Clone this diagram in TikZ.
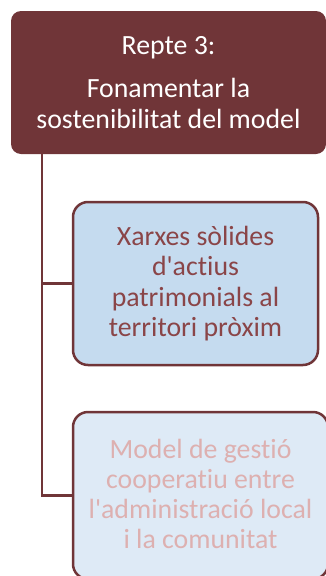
\documentclass[tikz,border=0pt]{standalone}
\usepackage{fontspec}
\setmainfont{Carlito}[Ligatures={NoCommon},RawFeature={-liga;-clig;-calt}]
\definecolor{maroon}{HTML}{703538}
\definecolor{midfill}{HTML}{C5DBEF}
\definecolor{lightfill}{HTML}{DEEAF6}
\definecolor{midtext}{HTML}{8A4548}
\definecolor{lighttext}{HTML}{DDB0B0}
\begin{document}
\begin{tikzpicture}[x=1pt,y=-1pt,
  boxbase/.style={rectangle,inner sep=0pt,outer sep=0pt,line width=2.5pt},
  topbox/.style={boxbase,fill=maroon,rounded corners=10pt,minimum width=315pt,minimum height=143pt},
  childbox/.style={boxbase,draw=maroon,rounded corners=15pt},
  txt/.style={anchor=base,inner sep=0pt,font=\fontsize{27.8}{31}\selectfont},
  link/.style={draw=maroon,line width=2.5pt}]
\useasboundingbox (0,0) rectangle (325,576);
\node[topbox] (top) at (168.5,82.5) {};
\coordinate (trunk) at ([xshift=31pt]top.south west);
\node[childbox,fill=midfill,minimum width=245pt,minimum height=163pt] (b2) at (195.5,283.5) {};
\node[childbox,fill=lightfill,minimum width=255pt,minimum height=167pt] (b3) at (200.5,495.5) {};
\draw[link] (trunk) |- (b2.west);
\draw[link] (trunk) |- (b3.west);
\node[txt,text=white] (t1) at (168.5,54) {Repte 3:};
\node[txt,text=white] (t2) at (168.5,97) {Fonamentar la};
\node[txt,text=white] (t3) at (168.5,128) {sostenibilitat del model};
\node[txt,text=midtext] (m1) at (195.5,245) {Xarxes sòlides};
\node[txt,text=midtext] (m2) at (195.5,275.6) {d\textquotesingle actius};
\node[txt,text=midtext] (m3) at (195.5,306.2) {patrimonials al};
\node[txt,text=midtext] (m4) at (195.5,336.8) {territori pròxim};
\node[txt,text=lighttext] (l1) at (200.5,458.3) {Model de gestió};
\node[txt,text=lighttext] (l2) at (200.5,488.3) {cooperatiu entre};
\node[txt,text=lighttext] (l3) at (200.5,518.3) {l\textquotesingle administració local};
\node[txt,text=lighttext] (l4) at (200.5,548.3) {i la comunitat};
\end{tikzpicture}
\end{document}
